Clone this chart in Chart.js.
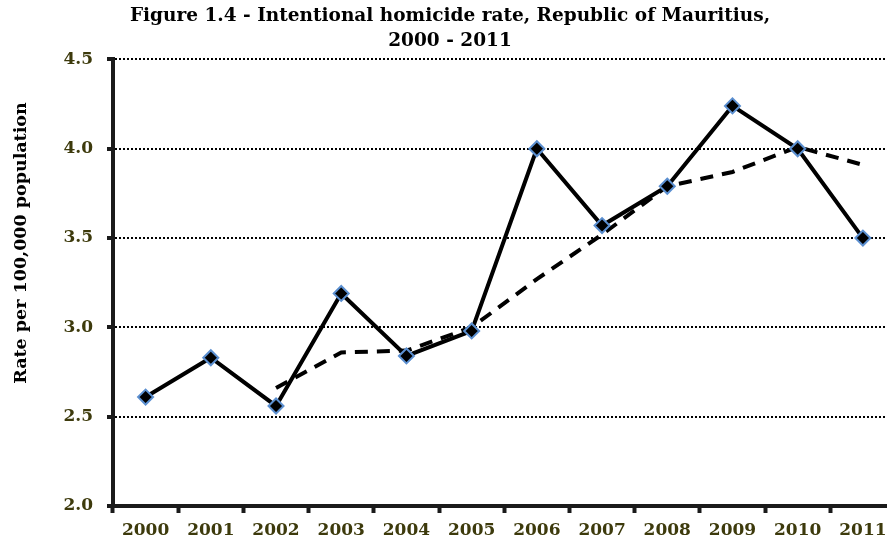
<!DOCTYPE html>
<html>
<head>
<meta charset="utf-8">
<script src="https://cdn.jsdelivr.net/npm/chart.js@4"></script>
<style>
  html, body { margin: 0; padding: 0; background: #fff; overflow: hidden; }
  #wrap { position: absolute; left: 0; top: 0; width: 905px; height: 544px; }
</style>
</head>
<body>
<div id="wrap"><canvas id="homicideChart"></canvas></div>
<script>
// Données
const years = ["2000", "2001", "2002", "2003", "2004", "2005", "2006", "2007", "2008", "2009", "2010", "2011"];
const rates = [2.61, 2.83, 2.56, 3.19, 2.84, 2.98, 4.0, 3.57, 3.79, 4.24, 4.0, 3.5];
const trend = [null, null, 2.66, 2.86, 2.87, 3.0, 3.27, 3.52, 3.79, 3.87, 4.01, 3.91];
const yTicks = [2.0, 2.5, 3.0, 3.5, 4.0, 4.5];

const serif = "'DejaVu Serif', 'Liberation Serif', serif";
const olive = "#3d3a0c";

// Titre de l'axe Y, placé comme sur la figure d'origine
const yTitlePlugin = {
  id: "yTitle",
  afterDraw(chart) {
    const ctx = chart.ctx;
    ctx.save();
    ctx.translate(21, 243);
    ctx.rotate(-Math.PI / 2);
    ctx.font = "bold 17.5px " + serif;
    ctx.fillStyle = "#000";
    ctx.textAlign = "center";
    ctx.textBaseline = "middle";
    ctx.fillText("Rate per 100,000 population", 0, 0);
    ctx.restore();
  },
};

new Chart(document.getElementById("homicideChart"), {
  type: "line",
  data: {
    labels: years,
    datasets: [
      {
        label: "Rate",
        data: rates,
        borderColor: "#000",
        borderWidth: 4,
        pointStyle: "rectRot",
        pointRadius: 7.5,
        pointBackgroundColor: "#000",
        pointBorderColor: "#5b8fd0",
        pointBorderWidth: 2,
        tension: 0,
      },
      {
        label: "Trend",
        data: trend,
        borderColor: "#000",
        borderWidth: 4,
        borderDash: [13, 9],
        pointRadius: 0,
        tension: 0,
      },
    ],
  },
  options: {
    responsive: true,
    maintainAspectRatio: false,
    animation: false,
    layout: { padding: { top: 0, right: 5, bottom: 0, left: 0 } },
    plugins: {
      legend: { display: false },
      tooltip: { enabled: false },
      title: {
        display: true,
        text: ["Figure 1.4 - Intentional homicide rate, Republic of Mauritius,", "2000 - 2011"],
        color: "#000",
        font: { family: serif, size: 18.5, weight: "bold", lineHeight: 1.35 },
        padding: { top: 4, bottom: 5.5 },
      },
    },
    scales: {
      x: {
        offset: true,
        grid: {
          offset: true,
          drawOnChartArea: false,
          tickLength: 7,
          tickWidth: 4,
          tickColor: "#1a1a1a",
        },
        border: { width: 4, color: "#1a1a1a" },
        ticks: {
          color: olive,
          font: { family: serif, size: 17, weight: "bold" },
          padding: 7,
          maxRotation: 0,
          autoSkip: false,
        },
        afterFit: (scale) => { scale.height = 38; },
      },
      y: {
        min: 2,
        max: 4.5,
        afterBuildTicks: (scale) => { scale.ticks = yTicks.map((v) => ({ value: v })); },
        grid: {
          color: "#000",
          lineWidth: 2,
          tickLength: 6,
          tickWidth: 4,
          tickColor: "#1a1a1a",
          tickBorderDash: [],
        },
        border: { width: 4, color: "#1a1a1a", dash: [2, 2] },
        ticks: {
          color: olive,
          font: { family: serif, size: 17, weight: "bold" },
          padding: 14,
          callback: (v) => Number(v).toFixed(1),
        },
        afterFit: (scale) => { scale.width = 113; },
      },
    },
  },
  plugins: [yTitlePlugin],
});
</script>
</body>
</html>
